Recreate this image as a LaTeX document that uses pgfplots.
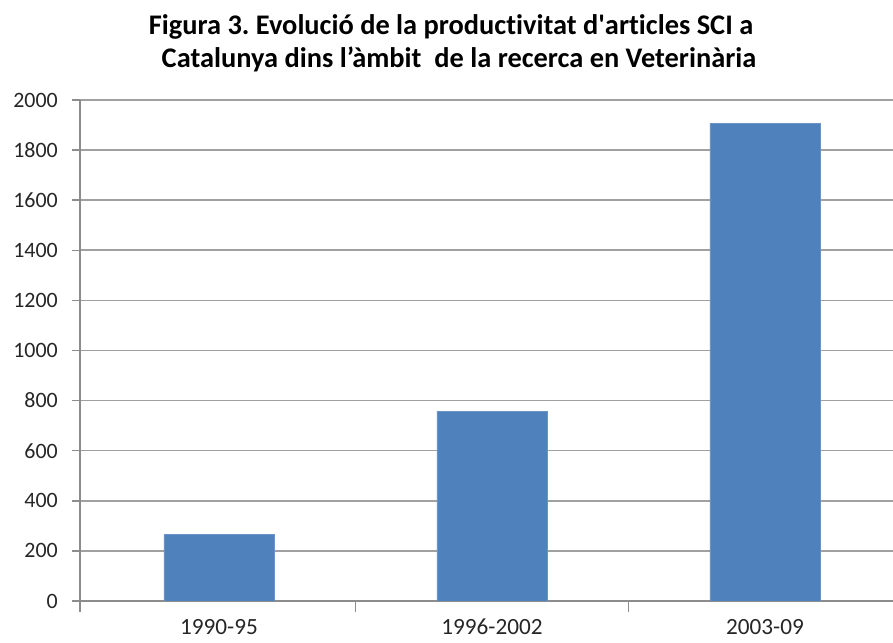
\documentclass[border=0pt]{standalone}
\usepackage{fontspec}
\setmainfont{Carlito}[Ligatures={TeX,NoCommon}]
\usepackage{pgfplots}
\pgfplotsset{compat=1.18}
\frenchspacing
\definecolor{barblue}{HTML}{4F81BD}
\definecolor{gridgray}{HTML}{A0A0A0}
\definecolor{axgray}{HTML}{8C8C8C}
\begin{document}
\begin{tikzpicture}[x=1bp,y=1bp]
\path[use as bounding box] (0,0) rectangle (893,643);
\begin{axis}[
  at={(80bp,42bp)}, anchor=south west,
  scale only axis,
  width=813bp, height=501bp,
  xmin=-0.509, xmax=2.469,
  ymin=0, ymax=2000,
  ytick={0,200,...,2000},
  xtick={0,1,2},
  xticklabels={1990-95,1996-2002,2003-09},
  axis x line*=bottom, axis y line*=left,
  axis line style={draw=axgray, line width=1.5bp, -},
  ymajorgrids,
  grid style={draw=gridgray, line width=1.6bp},
  tick align=outside,
  major tick length=8bp,
  ytick style={draw=axgray, line width=1.5bp},
  xtick style={draw=none},
  extra x ticks={-0.509,0.5,1.5},
  extra x tick labels={},
  extra x tick style={grid=none, major tick length=11bp, xtick style={draw=axgray, line width=1.5bp}},
  /pgf/number format/assume math mode=true,
  /pgf/number format/1000 sep={},
  tick label style={text=black!85},
  yticklabel style={anchor=east, inner sep=0pt, xshift=-14bp, font=\fontsize{22}{24}\selectfont},
  xticklabel style={anchor=north, inner sep=0pt, yshift=-10bp, font=\fontsize{23.3}{25}\selectfont},
  ybar, bar width=110bp,
]
\addplot[fill=barblue, draw=barblue!85!white, line width=0.8bp] coordinates {(0,265) (1,757) (2,1907)};
\end{axis}
\node[anchor=base, font=\bfseries\fontsize{28.5}{30}\selectfont] at (451,608) {Figura 3. Evolució de la productivitat d\textquotesingle articles SCI a};
\node[anchor=base, font=\bfseries\fontsize{28.5}{30}\selectfont] at (459,575) {Catalunya dins l’àmbit\ \ de la recerca en Veterinària};
\end{tikzpicture}
\end{document}
